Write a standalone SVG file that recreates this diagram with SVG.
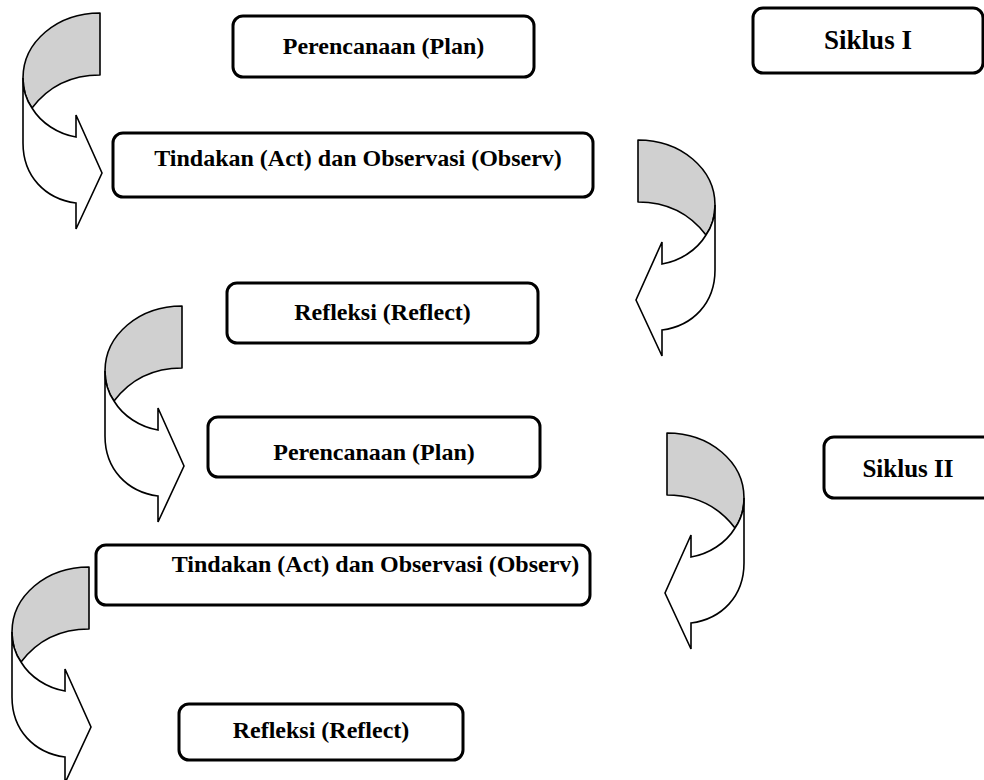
<svg xmlns="http://www.w3.org/2000/svg" xmlns:xlink="http://www.w3.org/1999/xlink" width="984" height="780" viewBox="0 0 984 780">
<style>
.box{fill:#fff;stroke:#000;stroke-width:3}
.lbl{font-family:"Liberation Serif","Times New Roman",serif;font-weight:bold;font-size:24px;fill:#000;text-anchor:middle}
.big{font-size:27px}
.mid{font-size:25px}
.back{fill:#d0d0d0;stroke:#000;stroke-width:1.6;stroke-linejoin:round}
.front{fill:#fff;stroke:#000;stroke-width:1.6;stroke-linejoin:miter}
</style>
<defs>
<g id="curv">
<path class="back" d="M77,0 C34,0 0,29 0,65 C0,77 4,88 9,95 C25,74 48,62 77,62 Z"/>
<path class="front" d="M0,65 L0,130 C0,163 22,186 53,190 L53,216 L79,160 L53,102 L53,124 C35,121 18,110 9,95 C4,88 0,77 0,65 Z"/>
</g>
</defs>
<g id="connectors">
<use xlink:href="#curv" transform="translate(23,13)"/>
<use xlink:href="#curv" transform="translate(715,140) scale(-1,1)"/>
<use xlink:href="#curv" transform="translate(105,306)"/>
<use xlink:href="#curv" transform="translate(744,433) scale(-1,1)"/>
<use xlink:href="#curv" transform="translate(12,567)"/>
</g>
<g id="plan1"><rect class="box" x="233" y="16" width="301" height="61" rx="10"/><text class="lbl" x="383.5" y="54">Perencanaan (Plan)</text></g>
<g id="siklus1"><rect class="box" x="753" y="8" width="230" height="65" rx="10"/><text class="lbl big" x="868" y="49">Siklus I</text></g>
<g id="act1"><rect class="box" x="113" y="133" width="480" height="64" rx="10"/><text class="lbl" x="358" y="166">Tindakan (Act) dan Observasi (Observ)</text></g>
<g id="reflect1"><rect class="box" x="227" y="283" width="311" height="60" rx="10"/><text class="lbl" x="382.5" y="320">Refleksi (Reflect)</text></g>
<g id="plan2"><rect class="box" x="208" y="417" width="332" height="60" rx="10"/><text class="lbl" x="374" y="460">Perencanaan (Plan)</text></g>
<g id="siklus2"><rect class="box" x="824" y="437" width="170" height="61" rx="10"/><text class="lbl mid" x="908" y="477">Siklus II</text></g>
<g id="act2"><rect class="box" x="96" y="545" width="494" height="60" rx="10"/><text class="lbl" x="375.5" y="572">Tindakan (Act) dan Observasi (Observ)</text></g>
<g id="reflect2"><rect class="box" x="179" y="704" width="284" height="56" rx="10"/><text class="lbl" x="321" y="738">Refleksi (Reflect)</text></g>
</svg>
